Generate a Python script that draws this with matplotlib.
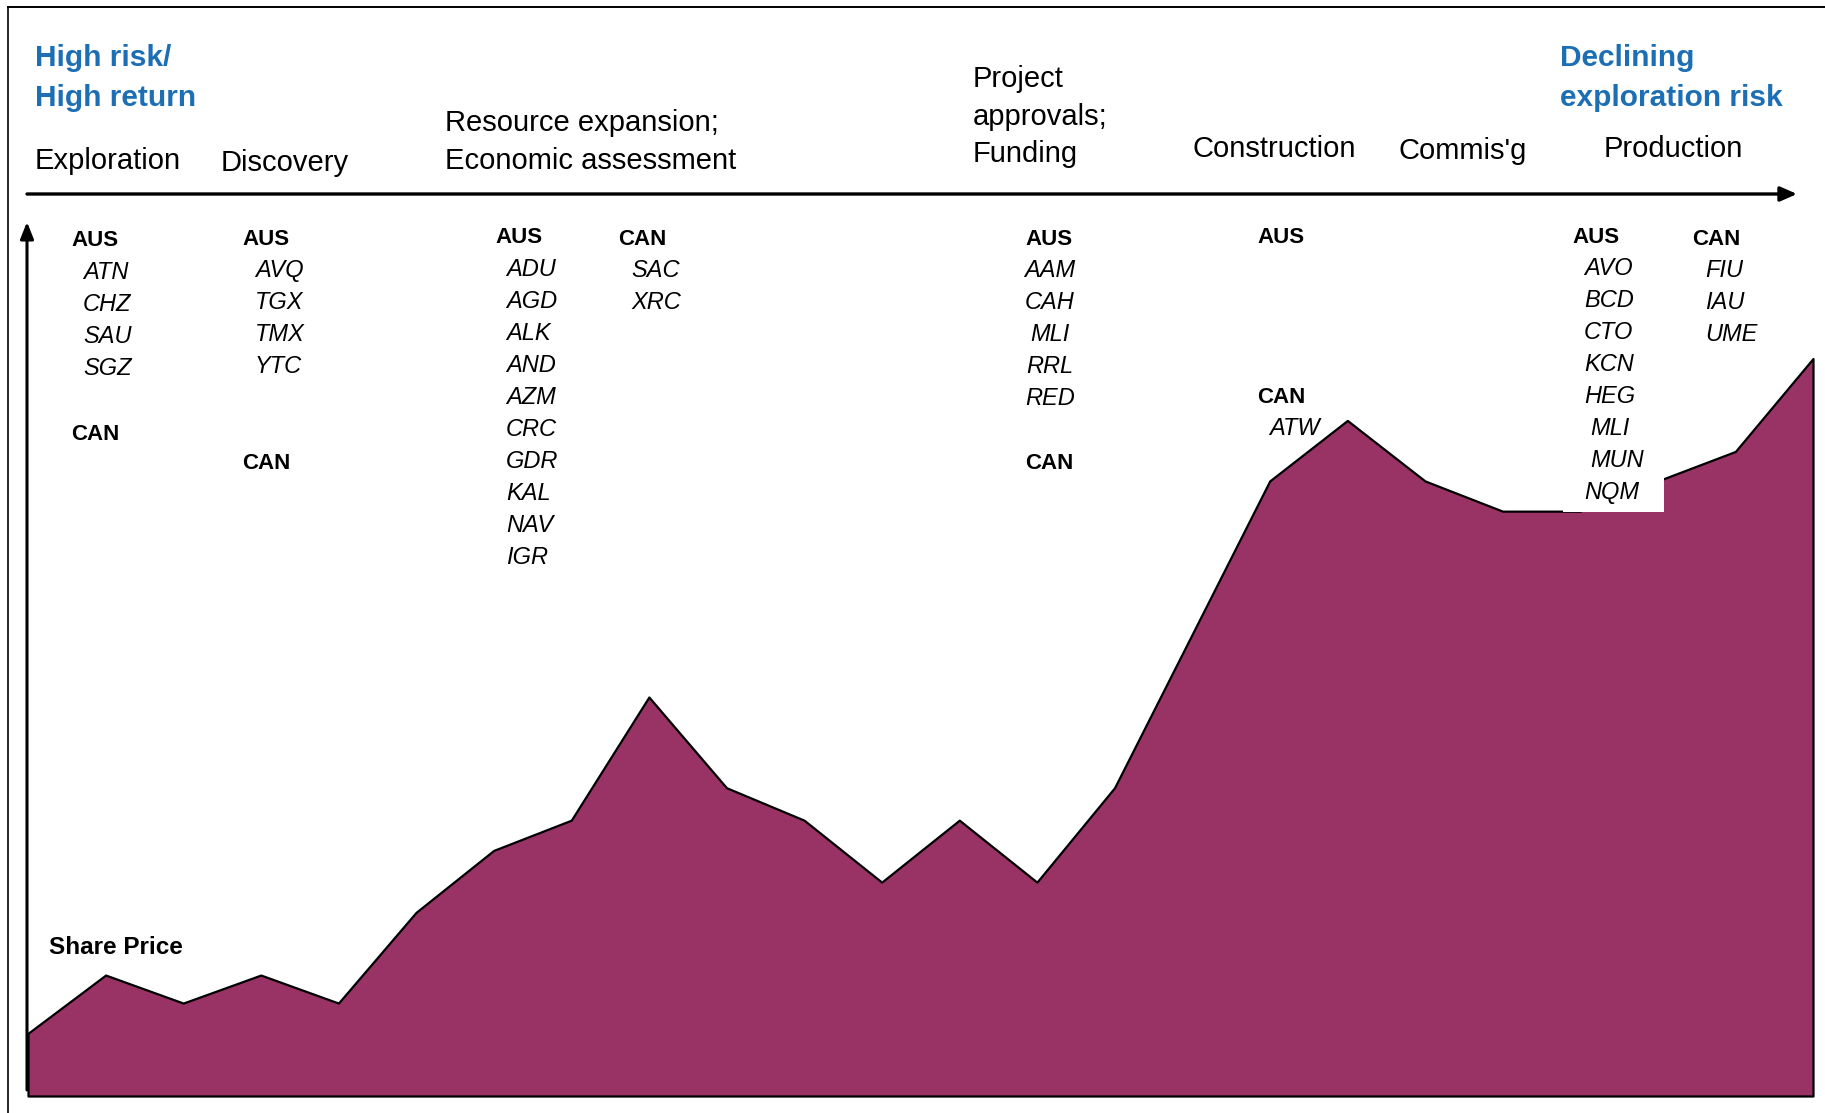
import matplotlib
matplotlib.use("Agg")
import matplotlib.pyplot as plt
from matplotlib.patches import Rectangle
from matplotlib.lines import Line2D

# ---------------- data ----------------
# x: position along the development timeline (equal steps), y: relative share price
step_index = [0, 1, 2, 3, 4, 5, 6, 7, 8, 9, 10, 11, 12, 13, 14, 16, 17, 18, 19, 20, 21, 22, 23]
share_price = [8.5, 16.4, 12.6, 16.4, 12.6, 24.9, 33.3, 37.4, 54.1, 41.8, 37.4, 29.0,
               37.4, 29.0, 41.8, 83.4, 91.6, 83.4, 79.3, 79.3, 83.4, 87.4, 100.0]

phase_labels = ["Exploration", "Discovery", "Resource expansion;\nEconomic assessment",
                "Project\napprovals;\nFunding", "Construction", "Commis'g", "Production"]
risk_left = "High risk/\nHigh return"
risk_right = "Declining\nexploration risk"

exploration_aus = ["ATN", "CHZ", "SAU", "SGZ"]
exploration_can = []
discovery_aus = ["AVQ", "TGX", "TMX", "YTC"]
discovery_can = []
resource_aus = ["ADU", "AGD", "ALK", "AND", "AZM", "CRC", "GDR", "KAL", "NAV", "IGR"]
resource_can = ["SAC", "XRC"]
funding_aus = ["AAM", "CAH", "MLI", "RRL", "RED"]
funding_can = []
construction_aus = []
construction_can = ["ATW"]
production_aus = ["AVO", "BCD", "CTO", "KCN", "HEG", "MLI", "MUN", "NQM"]
production_can = ["FIU", "IAU", "UME"]

# ---------------- figure ----------------
W, H = 1825, 1113
DPI = 100
fig = plt.figure(figsize=(W / DPI, H / DPI), dpi=DPI)
ax = fig.add_axes([0, 0, 1, 1])
ax.axis("off")

# data-axis mapping: index 0 -> px 28, index 23 -> px 1813 ; price 0 -> px 1096, 100 -> px 358.5
ppx = (1813 - 28) / 23.0
ppy = (1096 - 358.5) / 100.0
ax.set_xlim(-28 / ppx, 23 + (W - 1813) / ppx)
ax.set_ylim(-(H - 1096) / ppy, 1096 / ppy)

FONT = "Liberation Sans"
BLUE = "#1c6fb5"
FILL = "#993366"


def fx(x):
    return x / W


def fy(y):
    return 1 - y / H


def put(x, yc, s, size, weight="normal", style="normal", color="black", ha="left", gap=37.5):
    # yc = visual centre of the first line's capitals (pixels from top); gap = line pitch in px
    em = size * DPI / 72.0
    for k, line in enumerate(s.split("\n")):
        base = yc + gap * k + 0.358 * em
        ax.text(fx(x), fy(base), line, transform=ax.transAxes, fontsize=size, fontfamily=FONT,
                fontweight=weight, fontstyle=style, color=color, ha=ha, va="baseline", zorder=5)


# outer frame (only left and top visible)
ax.add_line(Line2D([fx(8), fx(8)], [fy(7), 0], transform=ax.transAxes, color="black", lw=1.2, zorder=6))
ax.add_line(Line2D([fx(8), 1], [fy(7), fy(7)], transform=ax.transAxes, color="black", lw=1.4, zorder=6))

# share price area
ax.fill_between(step_index, share_price, 0, facecolor=FILL, edgecolor="black", lw=1.6, zorder=2)

# white box behind production list
ax.add_patch(Rectangle((fx(1563), fy(512)), fx(1664) - fx(1563), fy(215) - fy(512),
                       transform=ax.transAxes, facecolor="white", edgecolor="none", zorder=3))

# axes arrows
ax.annotate("", xy=(fx(1797), fy(194)), xytext=(fx(27), fy(194)), xycoords="axes fraction",
            textcoords="axes fraction",
            arrowprops=dict(arrowstyle="-|>,head_length=0.5,head_width=0.22", lw=2.4, color="black",
                            shrinkA=0, shrinkB=0, mutation_scale=20), zorder=6)
ax.annotate("", xy=(fx(27), fy(222)), xytext=(fx(27), fy(1090)), xycoords="axes fraction",
            textcoords="axes fraction",
            arrowprops=dict(arrowstyle="-|>,head_length=0.5,head_width=0.2", lw=2.2, color="black",
                            shrinkA=0, shrinkB=0, mutation_scale=20), zorder=6)

# ---------------- texts ----------------
put(35, 55, risk_left, 21.5, weight="bold", color=BLUE, gap=40.5)
put(1560, 55, risk_right, 21.5, weight="bold", color=BLUE, gap=40.5)

phase_pos = [(35, 159), (221, 161), (445, 121), (973, 77), (1193, 147), (1398, 149), (1604, 147)]
for lab, (x, y) in zip(phase_labels, phase_pos):
    put(x, y, lab, 21, gap=37.5)

put(49, 945, "Share Price", 17.5, weight="bold")

ROW = 32.0
groups = [
    ("AUS", 71, 238, exploration_aus, 83, 271, "left"),
    ("CAN", 71, 432, exploration_can, 83, 464, "left"),
    ("AUS", 242, 237, discovery_aus, 255, 269, "left"),
    ("CAN", 242, 461, discovery_can, 255, 493, "left"),
    ("AUS", 495, 235, resource_aus, 506, 268, "left"),
    ("CAN", 618, 237, resource_can, 631, 269, "left"),
    ("AUS", 1025, 237, funding_aus, 1050, 269, "center"),
    ("CAN", 1025, 461, funding_can, 1050, 493, "center"),
    ("AUS", 1257, 235, construction_aus, 1269, 267, "left"),
    ("CAN", 1257, 395, construction_can, 1269, 427, "left"),
    ("AUS", 1572, 235, production_aus, 1584, 267, "left"),
    ("CAN", 1692, 237, production_can, 1705, 269, "left"),
]
nudge = {(1572, "MLI"): 6, (1572, "MUN"): 6}
for head, hx, hy, tickers, tx, ty, ha in groups:
    put(hx, hy, head, 16, weight="bold")
    for i, t in enumerate(tickers):
        put(tx + nudge.get((hx, t), 0), ty + ROW * i, t, 17, style="italic", ha=ha)

fig.savefig("out.png", dpi=DPI, facecolor="white")
